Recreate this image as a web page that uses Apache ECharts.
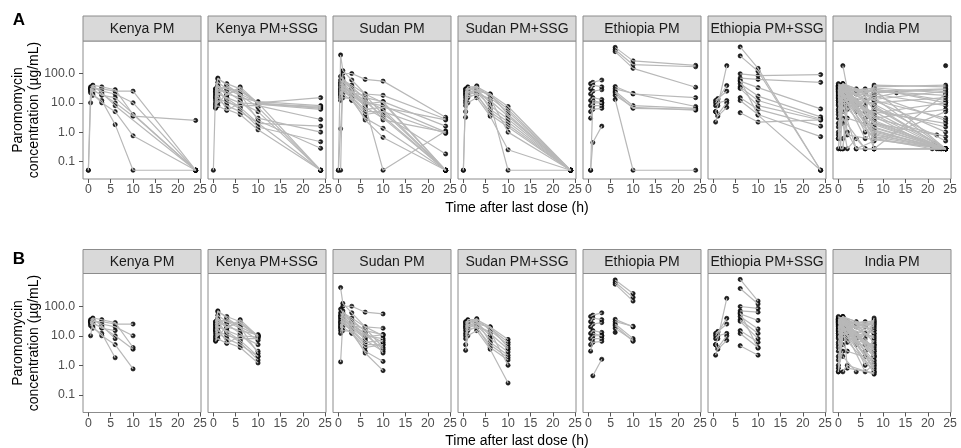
<!DOCTYPE html>
<html><head><meta charset="utf-8">
<script src="https://cdn.jsdelivr.net/npm/echarts@6/dist/echarts.min.js"></script>
<style>html,body{margin:0;padding:0;background:#fff}#c{width:961px;height:448px}</style>
</head><body><div id="c"></div>
<script>
// ---------- data ----------
const panelTitles = ['Kenya PM','Kenya PM+SSG','Sudan PM','Sudan PM+SSG','Ethiopia PM','Ethiopia PM+SSG','India PM'];
const rowLabels = ['A','B'];
const xTicks = [0,5,10,15,20,25];
const yTicks = [0.1,1,10,100];
const lloq = [0.05,0.05,0.05,0.05,0.05,0.05,0.27];   // BLQ value per panel (dropped in B)
const rowBTimeMax = 10;
const rowBConcMax = [1000,1000,1000,1000,1000,1000,100];

// each subject: [[time (h), concentration (ug/mL)], ...]
const kenyaPM = [
 [[0,0.05],[0.5,10],[1,30],[3,30],[6,25],[10,25],[24,0.05]],
 [[0.5,25],[1,35],[3,25],[6,20],[10,10],[24,0.05]],
 [[0,0.05],[0.5,30],[1,25],[3,20],[6,10],[10,3.5],[24,2.5]],
 [[0.5,35],[1,40],[3,35],[6,28],[10,4],[24,0.05]],
 [[0.5,28],[1,20],[3,10],[6,5],[10,0.75],[24,0.05]],
 [[0.5,32],[1,18],[3,12],[6,1.8],[10,0.05],[24,0.05]],
 [[0.5,22],[1,28],[3,18],[6,15],[24,0.05]],
 [[0.5,30],[1,38],[3,22],[6,8],[24,0.05]]
];
const kenyaPMSSG = [
 [[0,0.05],[0.5,30],[1,70],[3,40],[6,20],[10,10],[24,15]],
 [[0.5,20],[1,65],[3,45],[6,30],[10,9],[24,7]],
 [[0.5,15],[1,35],[3,30],[6,25],[10,10],[24,6.5]],
 [[0.5,25],[1,40],[3,20],[6,15],[10,11],[24,8]],
 [[0.5,10],[1,20],[3,15],[6,10],[10,9],[24,6]],
 [[0.5,8],[1,15],[3,10],[6,8],[10,8],[24,2.7]],
 [[0.5,6.5],[1,12],[3,8],[6,5],[10,2],[24,1.6]],
 [[0.5,12],[1,25],[3,25],[6,12],[10,3],[24,1.0]],
 [[0.5,18],[1,30],[3,12],[6,6],[10,1.5],[24,0.47]],
 [[0.5,22],[1,28],[3,35],[6,20],[10,2.5],[24,0.28]],
 [[0.5,14],[1,18],[3,6],[6,4],[10,1.2],[24,0.05]],
 [[0.5,30],[1,50],[3,30],[6,18],[10,7],[24,0.05]],
 [[0.5,9],[1,10],[3,20],[6,28],[10,10],[24,0.05]],
 [[0.5,7],[1,8],[3,5.5],[6,10],[10,5],[24,0.05]],
 [[0.5,25],[1,35],[3,18],[6,35],[10,9.5],[24,7.5]],
 [[0.5,16],[1,22],[3,14],[6,7],[10,2],[24,0.05]]
];
const sudanPM = [
 [[0,0.05],[0.5,430],[1,125],[3,60],[6,20],[10,10],[24,0.05]],
 [[0.5,0.05],[1,100],[3,100],[6,63],[10,55],[24,3.2]],
 [[0.5,80],[1,60],[3,40],[6,20],[10,18],[24,2.8]],
 [[0.5,40],[1,50],[3,30],[6,15],[10,11],[24,1.6]],
 [[0.5,30],[1,35],[3,20],[6,10],[10,8],[24,1.0]],
 [[0.5,20],[1,25],[3,15],[6,5],[10,5],[24,0.9]],
 [[0.5,15],[1,20],[3,12],[6,3],[10,1.35],[24,0.05]],
 [[0.5,60],[1,45],[3,25],[6,12],[10,6],[24,0.05]],
 [[0.5,12],[1,30],[3,18],[6,8],[10,0.05],[24,1.1]],
 [[0.5,25],[1,15],[3,14],[6,2.6],[10,0.66],[24,0.05]],
 [[0.5,35],[1,40],[3,22],[6,18],[10,4],[24,0.18]],
 [[0.5,18],[1,70],[3,28],[6,7],[10,3],[24,0.05]],
 [[0.5,50],[1,55],[3,35],[6,14],[10,2.6],[24,1.0]],
 [[0.5,22],[1,28],[3,16],[6,6],[10,7],[24,2.6]],
 [[0.5,45],[1,38],[3,20],[6,9],[10,11],[24,0.05]],
 [[0.5,28],[1,32],[3,13],[6,4],[10,5],[24,0.05]],
 [[0,0.05],[0.5,1.3],[1,30],[3,24],[6,11],[10,3.5],[24,0.05]]
];
const sudanPMSSG = [
 [[0,0.05],[0.5,25],[1,35],[3,35],[6,20],[10,7.5],[24,0.05]],
 [[0.5,30],[1,30],[3,30],[6,18],[10,6],[24,0.05]],
 [[0.5,20],[1,28],[3,38],[6,15],[10,5],[24,0.05]],
 [[0.5,15],[1,25],[3,25],[6,12],[10,3.5],[24,0.05]],
 [[0.5,12],[1,20],[3,22],[6,8],[10,2.8],[24,0.05]],
 [[0.5,10],[1,18],[3,18],[6,5],[10,1.8],[24,0.05]],
 [[0.5,8],[1,15],[3,20],[6,4],[10,1.5],[24,0.05]],
 [[0.5,3.2],[1,10],[3,15],[6,3.5],[10,0.25],[24,0.05]],
 [[0.5,5],[1,22],[3,28],[6,10],[10,0.05],[24,0.05]],
 [[0.5,28],[1,32],[3,25],[6,20],[10,4],[24,0.05]],
 [[0.5,22],[1,30],[3,33],[6,6],[10,2.2],[24,0.05]],
 [[0,0.05],[0.5,18],[1,25],[3,20],[6,14],[10,1.0],[24,0.05]]
];
const ethiopiaPM = [
 [[0.5,0.05],[1,0.44],[3,1.6]],
 [[0.5,45],[1,50],[3,60]],
 [[0.5,30],[1,40],[3,35]],
 [[0.5,20],[1,25],[3,28]],
 [[0.5,12],[1,15],[3,13]],
 [[0.5,8],[1,10],[3,10]],
 [[0.5,5],[1,8],[3,8]],
 [[0.5,3],[1,6],[3,6.5]],
 [[0.5,0.05],[1,12],[3,10]],
 [[6,780],[10,270],[24,190]],
 [[6,650],[10,200],[24,170]],
 [[6,560],[10,150],[24,34]],
 [[6,36],[10,20],[24,15]],
 [[6,30],[10,21],[24,7.5]],
 [[6,25],[10,8],[24,6.5]],
 [[6,18],[10,7],[24,5.6]],
 [[6,13],[10,0.05],[24,0.05]],
 [[6,22],[10,6.5],[24,6]]
];
const ethiopiaPMSSG = [
 [[0.5,5],[1,8],[3,185]],
 [[0.5,8],[1,10],[3,12]],
 [[0.5,12],[1,14],[3,25]],
 [[0.5,2.2],[1,4],[3,10]],
 [[0.5,5],[1,3.5],[3,7]],
 [[0.5,10],[1,13],[3,39]],
 [[6,810],[10,150],[24,0.05]],
 [[6,400],[10,120],[24,0.05]],
 [[6,98],[10,85],[24,92]],
 [[6,70],[10,63],[24,50]],
 [[6,55],[10,33],[24,6.2]],
 [[6,45],[10,17],[24,3.3]],
 [[6,35],[10,12],[24,2.8]],
 [[6,31],[10,8],[24,2.6]],
 [[6,15],[10,6],[24,1.6]],
 [[6,12],[10,4],[24,0.7]],
 [[6,4.6],[10,2.2],[24,2.6]],
 [[6,60],[10,3.8],[24,0.05]]
];
const indiaPM = [
 [[0,30],[1,40],[8,15],[24,0.27]],
 [[0,20],[1,35],[8,8],[24,0.27]],
 [[0,8],[1,25],[8,4],[23.5,0.27]],
 [[0,3],[1,20],[8,2],[24,0.27]],
 [[0,1.5],[1,15],[8,1.2],[22.5,0.27]],
 [[0,0.6],[1,10],[8,0.6],[21,0.27]],
 [[0,0.27],[1,30],[6,12],[24,25]],
 [[0,35],[1,28],[2,20],[8,25],[24,30]],
 [[0,12],[1,18],[2,12],[8,10],[24,15]],
 [[0.5,0.27],[1,0.27],[2,6],[8,35],[24,40]],
 [[1,185],[2,30],[8,20],[24,8]],
 [[1,0.6],[2,1],[4,0.27],[8,0.5],[24,5]],
 [[1,2],[2,0.27],[4,0.6],[6,0.27],[8,0.27]],
 [[0,25],[1,45],[4,30],[8,12],[24,3]],
 [[0,15],[1,38],[4,25],[8,6],[24,1.5]],
 [[0,5],[1,30],[6,8],[8,3],[24,0.7]],
 [[0,40],[1,42],[6,25],[8,30],[24,12]],
 [[1,0.27],[2,15],[6,1],[8,2],[22,0.8]],
 [[0,2],[1,8],[4,0.27],[8,0.27],[24,20]],
 [[1,22],[2,28],[6,5],[8,40],[24,35]],
 [[0,10],[1,5],[2,3],[8,1.5],[24,0.27]],
 [[0,0.8],[1,3],[6,0.27],[8,0.27],[24,0.27]],
 [[1,12],[4,8],[8,15],[13,22],[24,10]],
 [[24,185]],
 [[0,28],[1,33],[6,20],[8,0.27],[24,0.27]],
 [[0,6],[1,20],[4,10],[8,0.27],[23,0.27]],
 [[1,36],[2,25],[6,30],[8,22],[24,28]],
 [[0,4],[1,12],[2,8],[8,5],[24,2]],
 [[1,30],[4,5],[8,0.8],[24,0.27]],
 [[0,22],[1,16],[8,28],[24,0.27]],
 [[0,38],[1,30],[8,0.7],[24,0.27]],
 [[0,32],[1,36],[8,1],[24,0.27]],
 [[0,26],[1,44],[8,1.8],[24,0.27]],
 [[0,18],[1,40],[8,2.5],[24,0.27]],
 [[0,14],[1,32],[8,3.5],[22,0.27]],
 [[0,36],[1,25],[6,6],[8,5],[24,0.27]],
 [[0,24],[1,33],[6,3],[8,7],[24,0.27]],
 [[0,30],[1,28],[2,18],[8,9],[24,0.5]],
 [[0,40],[1,38],[2,25],[8,12],[24,1]],
 [[0,33],[1,42],[4,20],[8,18],[24,2.5]],
 [[0,9],[1,26],[2,10],[8,0.6],[24,0.27]],
 [[0,0.6],[1,22],[8,1.4],[24,0.27]],
 [[0,1],[1,35],[6,2],[8,0.9],[23,0.27]],
 [[0,16],[1,45],[4,12],[8,3],[24,6]],
 [[0,12],[1,30],[8,25],[24,18]],
 [[0,20],[1,24],[8,32],[24,22]],
 [[1,40],[2,0.8],[8,0.55],[24,0.27]],
 [[0,35],[1,20],[6,0.6],[8,1.1],[24,0.27]],
 [[0,28],[0.5,0.27],[1,15],[8,4.5],[24,10]],
 [[0,45],[1,33],[8,2.2],[21.5,0.4]]
];
const panelData = [kenyaPM, kenyaPMSSG, sudanPM, sudanPMSSG, ethiopiaPM, ethiopiaPMSSG, indiaPM];

// ---------- layout ----------
const FONT = "'Liberation Sans', Arial, sans-serif";
const PANEL_LEFT0 = 83, PANEL_STEP = 125, PANEL_W = 118;
const rows = [
  {top: 41, height: 138, stripTop: 16, labelY: 20, xTitleY: 208},
  {top: 273.5, height: 139, stripTop: 249.5, labelY: 259, xTitleY: 441}
];
const X_MIN = -1.2, X_MAX = 25.2, Y_MIN = -1.6, Y_MAX = 3.11;
const LINE_COL = '#b8b8b8', BORDER_COL = '#8c8c8c';

const grids = [], xAxes = [], yAxes = [], series = [], graphics = [];
const logTicks = yTicks.map(v => Math.log10(v));

rows.forEach((row, r) => {
  panelTitles.forEach((title, i) => {
    const gi = r * 7 + i;
    const left = PANEL_LEFT0 + i * PANEL_STEP;
    grids.push({left: left, top: row.top, width: PANEL_W, height: row.height,
      show: true, borderColor: BORDER_COL, borderWidth: 1, backgroundColor: 'transparent'});
    xAxes.push({type: 'value', gridIndex: gi, min: X_MIN, max: X_MAX, position: 'bottom',
      axisLine: {show: false, onZero: false}, splitLine: {show: false},
      axisTick: {show: true, length: 4, lineStyle: {color: '#555'}, customValues: xTicks},
      axisLabel: {customValues: xTicks, color: '#4d4d4d', fontSize: 12.3, fontFamily: FONT, margin: 5}});
    yAxes.push({type: 'value', gridIndex: gi, min: Y_MIN, max: Y_MAX, position: 'left',
      axisLine: {show: false, onZero: false}, splitLine: {show: false},
      axisTick: {show: i === 0, length: 4, lineStyle: {color: '#555'}, customValues: logTicks},
      axisLabel: {show: i === 0, customValues: logTicks, color: '#4d4d4d', fontSize: 12.3, fontFamily: FONT, margin: 8,
        formatter: v => Math.pow(10, v).toFixed(1)}});
    // strip
    const stripH = row.top - row.stripTop;
    graphics.push({type: 'rect', shape: {x: left, y: row.stripTop, width: PANEL_W, height: stripH},
      style: {fill: '#d9d9d9', stroke: BORDER_COL, lineWidth: 1}, z: 10});
    graphics.push({type: 'text', x: left + PANEL_W / 2, y: row.stripTop + stripH / 2 + 0.5,
      style: {text: title, fill: '#1a1a1a', font: '14px ' + FONT, align: 'center', verticalAlign: 'middle'}, z: 11});

    // data
    let subjects = panelData[i];
    if (r === 1) {
      subjects = subjects.map(s => s.filter(p => p[0] <= rowBTimeMax && p[1] > lloq[i] && p[1] < rowBConcMax[i]));
    }
    const pts = [];
    subjects.forEach(s => {
      const d = s.map(p => [p[0], Math.log10(p[1])]);
      d.forEach(p => pts.push(p));
      if (d.length > 1) {
        series.push({type: 'line', xAxisIndex: gi, yAxisIndex: gi, data: d, showSymbol: false, symbol: 'none',
          lineStyle: {color: LINE_COL, width: 1.2}, silent: true, animation: false, z: 3});
      }
    });
    series.push({type: 'scatter', xAxisIndex: gi, yAxisIndex: gi, data: pts, symbol: 'circle', symbolSize: 4.2,
      itemStyle: {color: '#222', borderColor: '#000', borderWidth: 0.6, opacity: 1}, silent: true, animation: false, z: 2});
  });
  // row letter
  graphics.push({type: 'text', x: 19, y: row.labelY, style: {text: rowLabels[r], fill: '#000',
    font: 'bold 17px ' + FONT, align: 'center', verticalAlign: 'middle'}});
  // y title (two lines)
  const cy = row.top + row.height / 2;
  graphics.push({type: 'text', x: 18.5, y: cy, rotation: Math.PI / 2, style: {text: 'Paromomycin', fill: '#000',
    font: '14px ' + FONT, align: 'center', verticalAlign: 'middle'}});
  graphics.push({type: 'text', x: 34, y: cy, rotation: Math.PI / 2, style: {text: 'concentration (µg/mL)', fill: '#000',
    font: '14px ' + FONT, align: 'center', verticalAlign: 'middle'}});
  // x title
  graphics.push({type: 'text', x: 517, y: row.xTitleY, style: {text: 'Time after last dose (h)', fill: '#000',
    font: '14px ' + FONT, align: 'center', verticalAlign: 'middle'}});
});

const chart = echarts.init(document.getElementById('c'), null, {renderer: 'canvas'});
chart.setOption({
  animation: false,
  backgroundColor: '#fff',
  grid: grids, xAxis: xAxes, yAxis: yAxes, series: series,
  graphic: {elements: graphics}
});
</script>
</body></html>
